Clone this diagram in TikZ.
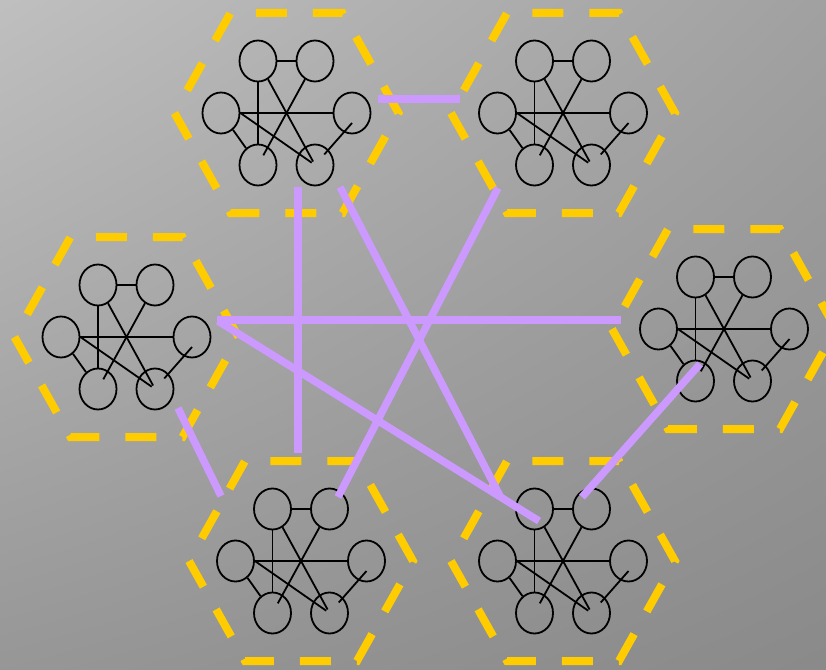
\documentclass[tikz,border=0pt]{standalone}
\usetikzlibrary{shapes.geometric, shadings}

\definecolor{hexyellow}{RGB}{255,204,0}
\definecolor{linkviolet}{RGB}{204,153,255}
\definecolor{bgUL}{gray}{0.75}
\definecolor{bgUR}{gray}{0.63}
\definecolor{bgLL}{gray}{0.59}
\definecolor{bgLR}{gray}{0.54}

\begin{document}
\begin{tikzpicture}[
    x=1pt, y=-1pt, % pixel grid, y pointing down
    vtx/.style={ellipse, draw=black, line width=1.8pt, minimum width=37pt, minimum height=41pt, inner sep=0pt}, % small vertex
    wire/.style={black, line width=1.8pt},
    hexa/.style={draw=hexyellow, line width=8pt, line join=miter, miter limit=10,
                 dash pattern=on 31pt off 26pt, dash phase=31pt}, % dashed cluster frame
    linkline/.style={draw=linkviolet, line width=7.5pt} % link between clusters
]

    % --- BACKGROUND ---
    \useasboundingbox (0,0) rectangle (826,669);
    \shade[upper left=bgUL, upper right=bgUR, lower left=bgLL, lower right=bgLR] (0,0) rectangle (826,669);

    % --- CLUSTERS (same small graph in each hexagon) ---
    \foreach \nm/\cx/\cy in {TL/286.5/113, TR/563/113, L/126.5/337, R/724/329, BL/301/561, BR/563/561} {
        \begin{scope}[shift={(\cx,\cy)}]
            % Frame
            \draw[hexa] (-112,0) -- (-56,-100) -- (56,-100) -- (112,0) -- (56,100) -- (-56,100) -- cycle;

            % Vertices
            \node[vtx] (\nm-a) at (-28.5,-52) {};
            \node[vtx] (\nm-b) at (28.5,-52) {};
            \node[vtx] (\nm-c) at (-65.5,0) {};
            \node[vtx] (\nm-d) at (65.5,0) {};
            \node[vtx] (\nm-e) at (-28.5,52) {};
            \node[vtx] (\nm-f) at (28.5,52) {};

            % Edges
            \draw[wire] (\nm-a) -- (\nm-b);
            \draw[wire] (\nm-a) -- (\nm-e);
            \draw[wire, shorten >=4pt] (\nm-a) -- (\nm-f.center);
            \draw[wire, shorten >=11pt] (\nm-b) -- (\nm-e.center);
            \draw[wire] (\nm-c) -- (\nm-d);
            \draw[wire, shorten >=4pt] (\nm-c.east) -- (\nm-f.center);
            \draw[wire] (\nm-c) -- (\nm-e);
            \draw[wire, shorten >=14pt] ([shift={(0,10)}]\nm-d.center) -- (\nm-f.center);
        \end{scope}
    }

    % --- LINK END POINTS ---
    \coordinate (TL-r) at (378,99);
    \coordinate (TR-l) at (460,99);
    \coordinate (TL-s) at (298,187);
    \coordinate (BL-n) at (298,453);
    \coordinate (TL-se) at (340,187);
    \coordinate (BR-nw) at (500,496);
    \coordinate (TR-sw) at (498,188);
    \coordinate (BL-ne) at (338,497);
    \coordinate (L-e) at (217,320);
    \coordinate (R-w) at (621,320);
    \coordinate (L-se) at (218,321);
    \coordinate (BR-w) at (539,521);
    \coordinate (L-s) at (178,408);
    \coordinate (BL-nw) at (221,496);
    \coordinate (R-sw) at (700,364);
    \coordinate (BR-ne) at (582,497);

    % --- LINKS ---
    \draw[linkline] (TL-r) -- (TR-l);
    \draw[linkline] (TL-s) -- (BL-n);
    \draw[linkline] (TL-se) -- (BR-nw);
    \draw[linkline] (TR-sw) -- (BL-ne);
    \draw[linkline] (L-e) -- (R-w);
    \draw[linkline] (L-se) -- (BR-w);
    \draw[linkline] (L-s) -- (BL-nw);
    \draw[linkline] (R-sw) -- (BR-ne);

\end{tikzpicture}
\end{document}
